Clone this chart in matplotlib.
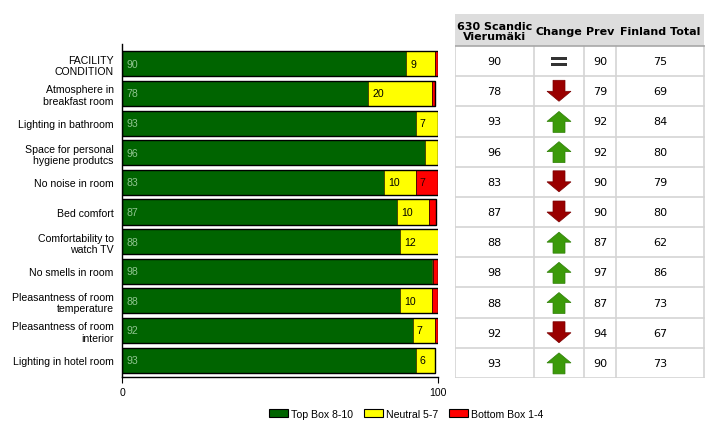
import matplotlib
matplotlib.use("Agg")
import matplotlib.pyplot as plt
from matplotlib.patches import Rectangle, Polygon

plt.rcParams["font.family"] = ["Liberation Sans", "DejaVu Sans"]

categories = [
    "FACILITY\nCONDITION", "Atmosphere in\nbreakfast room", "Lighting in bathroom",
    "Space for personal\nhygiene produtcs", "No noise in room", "Bed comfort",
    "Comfortability to\nwatch TV", "No smells in room", "Pleasantness of room\ntemperature",
    "Pleasantness of room\ninterior", "Lighting in hotel room",
]
top_box = [90, 78, 93, 96, 83, 87, 88, 98, 88, 92, 93]
neutral = [9, 20, 7, 4, 10, 10, 12, 0.3, 10, 7, 6]
bottom_box = [1, 1.2, 0, 0, 7, 2.5, 0.5, 1.7, 2, 1, 0]

score = [90, 78, 93, 96, 83, 87, 88, 98, 88, 92, 93]
prev = [90, 79, 92, 92, 90, 90, 87, 97, 87, 94, 90]
finland_total = [75, 69, 84, 80, 79, 80, 62, 86, 73, 67, 73]

GREEN = "#006400"
YELLOW = "#ffff00"
RED = "#ff0000"

fig = plt.figure(figsize=(7.2, 4.35), dpi=100)

# ---- stacked bars ----
ax = fig.add_axes([122 / 720, 1 - 378 / 435, 316 / 720, 333 / 435])
n = len(categories)
ypos = list(range(n))
h = 0.85
left_n = [t for t in top_box]
left_b = [t + m for t, m in zip(top_box, neutral)]
ax.barh(ypos, top_box, height=h, color=GREEN, edgecolor="#1a1a00", linewidth=0.6)
ax.barh(ypos, neutral, left=left_n, height=h, color=YELLOW, edgecolor="#404000", linewidth=0.6)
ax.barh(ypos, bottom_box, left=left_b, height=h, color=RED, edgecolor="#400000", linewidth=0.6)
totals = [a + b + c for a, b, c in zip(top_box, neutral, bottom_box)]
ax.barh(ypos, totals, height=h, fill=False, edgecolor="black", linewidth=1)

for i in range(n):
    ax.text(1.5, i, f"{top_box[i]:g}", color="#8fc48f", fontsize=7.6, va="center", ha="left")
    if neutral[i] >= 5:
        ax.text(left_n[i] + 1.2, i, f"{round(neutral[i])}", color="black", fontsize=7.6,
                va="center", ha="left")
    if bottom_box[i] >= 5:
        ax.text(left_b[i] + 1.2, i, f"{round(bottom_box[i])}", color="#330000", fontsize=7.6,
                va="center", ha="left")

ax.set_xlim(0, 100)
ax.set_ylim(n - 1 + 0.57, -0.67)
ax.set_yticks(ypos)
ax.set_yticklabels(categories, fontsize=7.6, linespacing=1.2)
ax.tick_params(axis="y", length=0, pad=6)
ax.set_xticks([0, 100])
ax.tick_params(axis="x", labelsize=7.6, length=4, direction="out", pad=3)
for s in ["top", "right"]:
    ax.spines[s].set_visible(False)
for s in ["left", "bottom"]:
    ax.spines[s].set_linewidth(1)

# ---- table ----
tx = fig.add_axes([455 / 720, 1 - 379 / 435, 250 / 720, 364 / 435])
tx.set_xlim(0, 250)
tx.set_ylim(364, 0)
tx.axis("off")
head_h = 32
row_h = (364 - head_h) / n
cols = [0, 79, 129, 161, 249]
grid = "#d4d4d4"
tx.add_patch(Rectangle((0, 0), 249, head_h, facecolor="#dddddd", edgecolor="none"))
headers = ["630 Scandic\nVierumäki", "Change", "Prev", "Finland Total"]
for j, lab in enumerate(headers):
    cx = (cols[j] + cols[j + 1]) / 2
    tx.text(cx, head_h / 2 + 1, lab, ha="center", va="center", fontsize=8,
            fontweight="bold", family="DejaVu Sans", linespacing=0.95)
for c in cols:
    tx.plot([c, c], [head_h, 364], color=grid, lw=1.2)
for i in range(n + 1):
    yy = head_h + i * row_h
    tx.plot([0, 249], [yy, yy], color="#a8a8a8" if i == 0 else grid, lw=1.2)

for i in range(n):
    cy = head_h + (i + 0.5) * row_h
    for j, val in [(0, score[i]), (2, prev[i]), (3, finland_total[i])]:
        cx = (cols[j] + cols[j + 1]) / 2
        tx.text(cx, cy, str(val), ha="center", va="center", fontsize=8, family="DejaVu Sans")
    cx = (cols[1] + cols[2]) / 2
    if score[i] > prev[i]:
        pts = [(cx, cy - 10), (cx + 12, cy), (cx + 6, cy), (cx + 6, cy + 11),
               (cx - 6, cy + 11), (cx - 6, cy), (cx - 12, cy)]
        tx.add_patch(Polygon(pts, closed=True, facecolor="#3c9a0a", edgecolor="#2f7f08", lw=0.5))
    elif score[i] < prev[i]:
        pts = [(cx, cy + 10), (cx + 12, cy), (cx + 6, cy), (cx + 6, cy - 11),
               (cx - 6, cy - 11), (cx - 6, cy), (cx - 12, cy)]
        tx.add_patch(Polygon(pts, closed=True, facecolor="#9a0000", edgecolor="#7a0000", lw=0.5))
    else:
        tx.add_patch(Rectangle((cx - 8, cy - 4), 16, 3, facecolor="#333333", edgecolor="none"))
        tx.add_patch(Rectangle((cx - 8, cy + 2), 16, 3, facecolor="#333333", edgecolor="none"))

# ---- legend ----
handles = [Rectangle((0, 0), 1, 1, facecolor=c, edgecolor="black", lw=0.8)
           for c in [GREEN, YELLOW, RED]]
fig.legend(handles, ["Top Box 8-10", "Neutral 5-7", "Bottom Box 1-4"], loc="center",
           bbox_to_anchor=(406 / 720, 1 - 415 / 435), ncol=3, frameon=False, fontsize=7.6,
           handlelength=1.8, handleheight=0.8, handletextpad=0.3, columnspacing=1.0)

fig.savefig("out.png", dpi=100)
